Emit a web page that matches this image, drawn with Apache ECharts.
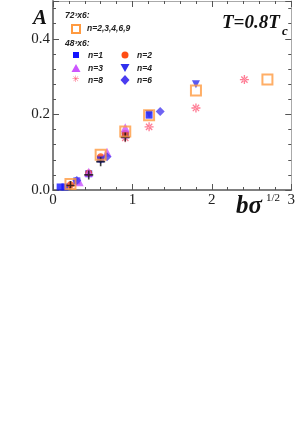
<!DOCTYPE html>
<html><head><meta charset="utf-8">
<script src="https://cdn.jsdelivr.net/npm/echarts@6/dist/echarts.min.js"></script>
<style>html,body{margin:0;padding:0;background:#fff}#c{width:298px;height:448px}</style>
</head><body><div id="c"></div>
<script>
// x values: b*sqrt(sigma), y values: A
const lat72_n23469 = [[0.22,0.016],[0.60,0.093],[0.91,0.155],[1.21,0.198],[1.80,0.263],[2.70,0.292]];
const lat48_n1 = [[0.09,0.008],[0.15,0.008],[0.30,0.024],[0.45,0.043],[0.60,0.082],[0.91,0.146],[1.21,0.198]];
const lat48_n2 = [[0.22,0.014],[0.45,0.045],[0.60,0.088],[0.91,0.150]];
const lat48_n3 = [[0.33,0.022],[0.45,0.047],[0.68,0.100],[0.91,0.165]];
const lat48_n4 = [[0.60,0.078],[1.21,0.201],[1.80,0.280]];
const lat48_n8 = [[0.91,0.138],[1.21,0.167],[1.80,0.217],[2.41,0.292]];
const lat48_n6 = [[0.30,0.025],[0.68,0.088],[1.35,0.208]];
const extraPlus = [[0.22,0.012],[0.45,0.040],[0.60,0.075],[0.91,0.140]];
const xTicks = [0,1,2,3];
const yTicks = [0.0,0.2,0.4];

const chart = echarts.init(document.getElementById('c'));
const serif = 'Liberation Serif';
const starPath = 'path://M-1,-0.15L1,-0.15L1,0.15L-1,0.15Z M-0.15,-1L0.15,-1L0.15,1L-0.15,1Z M-0.8,-0.6L-0.6,-0.8L0.8,0.6L0.6,0.8Z M0.8,-0.6L0.6,-0.8L-0.8,0.6L-0.6,0.8Z';
const plusPath = 'path://M-1,-0.18L1,-0.18L1,0.18L-1,0.18Z M-0.18,-1L0.18,-1L0.18,1L-0.18,1Z';
const cBlue='#1414ff', cCirc='#ff4d14', cMag='#cc55ff', cDown='#3030ee', cRed='#ff5c7a', cDia='#4a3cf0', cOr='#ff9a40';

function sc(data, symbol, size, color, extra){
  return Object.assign({type:'scatter', data:data, symbol:symbol, symbolSize:size,
    itemStyle:{color:color}, z:3}, extra||{});
}
const tick = {inside:true, length:6, lineStyle:{color:'#555'}};
const minor = {show:true, splitNumber:5, length:3, lineStyle:{color:'#555'}};
chart.setOption({
  animation:false,
  grid:{left:53, top:1, width:243, height:189},
  xAxis:[
    {type:'value', min:0, max:3, interval:1, position:'bottom',
      axisLine:{onZero:false, lineStyle:{color:'#808080', width:2}},
      axisTick:tick, minorTick:minor,
      axisLabel:{fontFamily:serif, fontSize:15, color:'#222', margin:3,
        formatter:v=> xTicks.includes(v)? String(v):''},
      splitLine:{show:false}},
    {type:'value', min:0, max:3, interval:1, position:'top',
      axisLine:{onZero:false, lineStyle:{color:'#aaa', width:1}},
      axisTick:tick, minorTick:minor,
      axisLabel:{show:false}, splitLine:{show:false}}
  ],
  yAxis:[
    {type:'value', min:0, max:0.5, interval:0.2, position:'left',
      axisLine:{show:true, onZero:false, lineStyle:{color:'#808080', width:2}},
      axisTick:Object.assign({show:true}, tick), minorTick:minor,
      axisLabel:{fontFamily:serif, fontSize:15, color:'#222', margin:3,
        formatter:v=> yTicks.some(t=>Math.abs(t-v)<1e-9)? v.toFixed(1):''},
      splitLine:{show:false}},
    {type:'value', min:0, max:0.5, interval:0.2, position:'right',
      axisLine:{show:true, onZero:false, lineStyle:{color:'#aaa', width:1}},
      axisTick:Object.assign({show:true}, tick), minorTick:minor,
      axisLabel:{show:false}, splitLine:{show:false}}
  ],
  series:[
    sc(lat48_n8, starPath, 9, cRed),
    sc(lat48_n1, 'rect', 7, cBlue),
    sc(lat48_n2, 'circle', 7, cCirc),
    sc(lat48_n3, 'triangle', 9, cMag),
    sc(lat48_n4, 'path://M-1,-1L1,-1L0,1Z', 8, cDown),
    sc(lat48_n6, 'diamond', 9, cDia),
    sc(extraPlus, plusPath, 9, '#111'),
    sc(lat72_n23469, 'rect', 10, 'rgba(0,0,0,0)', {itemStyle:{color:'rgba(255,255,255,0)', borderColor:cOr, borderWidth:2}, z:4})
  ],
  graphic:[
    {type:'text', left:33, top:8, style:{text:'A', font:'bold italic 21px "Liberation Serif"', fill:'#111'}},
    {type:'text', left:222, top:14, style:{text:'T=0.8T', font:'bold italic 19px "Liberation Serif"', fill:'#111'}},
    {type:'text', left:282, top:25, style:{text:'c', font:'bold italic 13px "Liberation Serif"', fill:'#111'}},
    {type:'text', left:236, top:194, style:{text:'bσ', font:'bold italic 25px "Liberation Serif"', fill:'#111'}},
    {type:'text', left:266, top:193, style:{text:'1/2', font:'11px "Liberation Serif"', fill:'#111'}},
    {type:'text', left:65, top:11, style:{text:'72³x6:', font:'bold italic 8.5px "Liberation Sans"', fill:'#222'}},
    {type:'rect', shape:{x:72, y:25, width:8, height:8}, style:{fill:'none', stroke:cOr, lineWidth:2}},
    {type:'text', left:87, top:24, style:{text:'n=2,3,4,6,9', font:'bold italic 8.5px "Liberation Sans"', fill:'#222'}},
    {type:'text', left:65, top:39, style:{text:'48³x6:', font:'bold italic 8.5px "Liberation Sans"', fill:'#222'}},
    {type:'rect', shape:{x:73, y:52, width:6, height:6}, style:{fill:cBlue}},
    {type:'text', left:88, top:51, style:{text:'n=1', font:'bold italic 8.5px "Liberation Sans"', fill:'#222'}},
    {type:'circle', shape:{cx:125, cy:55, r:3.5}, style:{fill:cCirc}},
    {type:'text', left:137, top:51, style:{text:'n=2', font:'bold italic 8.5px "Liberation Sans"', fill:'#222'}},
    {type:'polygon', shape:{points:[[76,64],[80.5,72],[71.5,72]]}, style:{fill:cMag}},
    {type:'text', left:88, top:64, style:{text:'n=3', font:'bold italic 8.5px "Liberation Sans"', fill:'#222'}},
    {type:'polygon', shape:{points:[[120.5,64],[129.5,64],[125,72]]}, style:{fill:cDown}},
    {type:'text', left:137, top:64, style:{text:'n=4', font:'bold italic 8.5px "Liberation Sans"', fill:'#222'}},
    {type:'text', left:72, top:75, style:{text:'✳', font:'9px "DejaVu Sans"', fill:cRed}},
    {type:'text', left:88, top:76, style:{text:'n=8', font:'bold italic 8.5px "Liberation Sans"', fill:'#222'}},
    {type:'polygon', shape:{points:[[125,75],[129.5,80],[125,85],[120.5,80]]}, style:{fill:cDia}},
    {type:'text', left:137, top:76, style:{text:'n=6', font:'bold italic 8.5px "Liberation Sans"', fill:'#222'}}
  ]
});
</script></body></html>
